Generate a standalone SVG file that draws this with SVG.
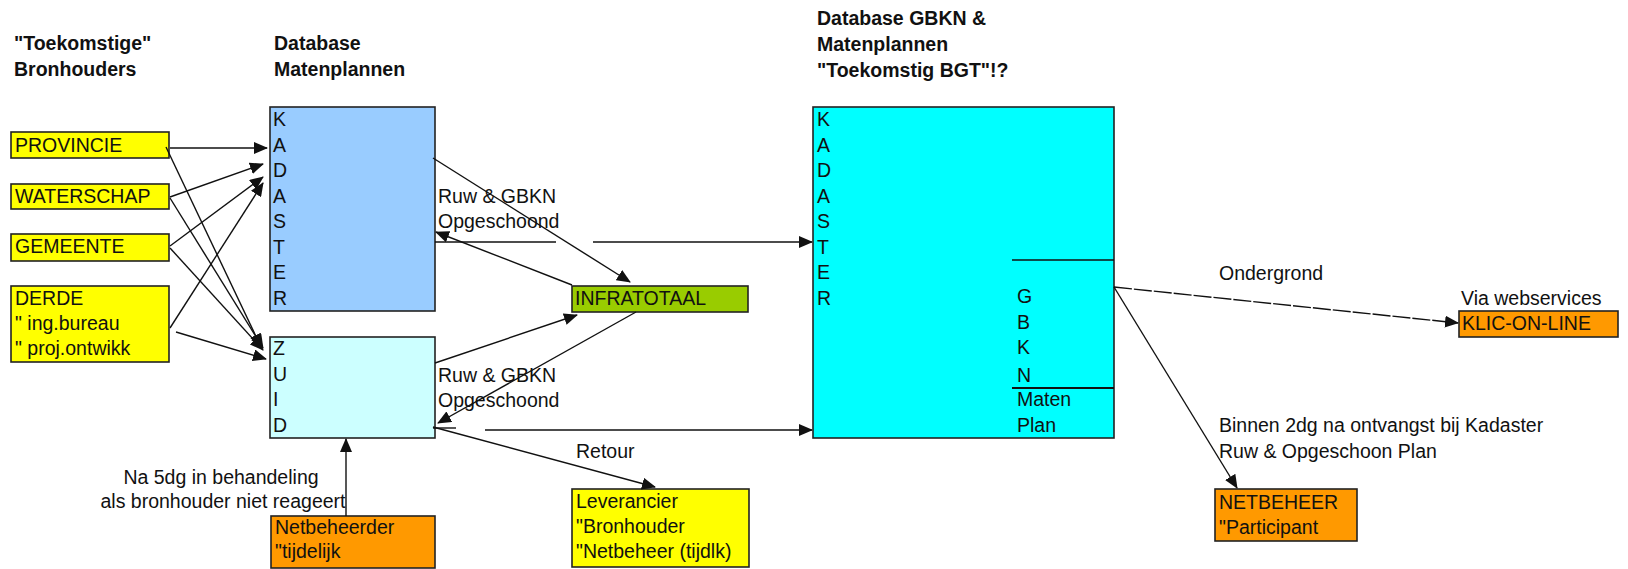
<svg xmlns="http://www.w3.org/2000/svg" width="1628" height="569" viewBox="0 0 1628 569">
<style>
text{font-family:"Liberation Sans",Arial,sans-serif;font-size:19.5px;fill:#111}
.t{font-weight:bold}
.box{stroke:#222;stroke-width:1.6}
.y{fill:#FFFF00}.o{fill:#FF9900}.g{fill:#99CC00}.kb{fill:#99CCFF}.zl{fill:#CCFFFF}.c{fill:#00FFFF}
.ln{stroke:#111;stroke-width:1.4;fill:none}
.a{marker-end:url(#ah)}
</style>
<defs>
<marker id="ah" markerUnits="userSpaceOnUse" markerWidth="14" markerHeight="12" refX="13" refY="6" orient="auto">
<path d="M0,0 L14,6 L0,12 z" fill="#111"/>
</marker>
</defs>
<g id="titles">
<text class="t" x="14" y="50">"Toekomstige"</text>
<text class="t" x="14" y="76">Bronhouders</text>
<text class="t" x="274" y="50">Database</text>
<text class="t" x="274" y="76">Matenplannen</text>
<text class="t" x="817" y="25">Database GBKN &amp;</text>
<text class="t" x="817" y="51">Matenplannen</text>
<text class="t" x="817" y="77">"Toekomstig BGT"!?</text>
</g>
<g id="provincie"><rect class="box y" x="11" y="132" width="158" height="26"/><text x="15" y="152">PROVINCIE</text></g>
<g id="waterschap"><rect class="box y" x="11" y="184" width="158" height="25"/><text x="15" y="203">WATERSCHAP</text></g>
<g id="gemeente"><rect class="box y" x="11" y="234" width="158" height="27"/><text x="15" y="253">GEMEENTE</text></g>
<g id="derde"><rect class="box y" x="11" y="286" width="158" height="76"/><text x="15" y="305">DERDE</text><text x="15" y="330">" ing.bureau</text><text x="15" y="355">" proj.ontwikk</text></g>
<g id="kadaster"><rect class="box kb" x="270" y="107" width="165" height="204"/>
<text x="273" y="126">K</text><text x="273" y="151.5">A</text><text x="273" y="177">D</text><text x="273" y="202.5">A</text><text x="273" y="228">S</text><text x="273" y="253.5">T</text><text x="273" y="279">E</text><text x="273" y="304.5">R</text></g>
<g id="zuid"><rect class="box zl" x="270" y="337" width="165" height="101"/>
<text x="273" y="355">Z</text><text x="273" y="381">U</text><text x="273" y="406">I</text><text x="273" y="432">D</text></g>
<g id="infratotaal"><rect class="box g" x="572" y="286" width="176" height="26"/><text x="575" y="305">INFRATOTAAL</text></g>
<g id="netbeheerder"><rect class="box o" x="271" y="516" width="164" height="52"/><text x="275" y="534">Netbeheerder</text><text x="275" y="558">"tijdelijk</text></g>
<g id="leverancier"><rect class="box y" x="572" y="489" width="177" height="78"/><text x="576" y="508">Leverancier</text><text x="576" y="533">"Bronhouder</text><text x="576" y="558">"Netbeheer (tijdlk)</text></g>
<g id="bgt"><rect class="box c" x="813" y="107" width="301" height="331"/>
<text x="817" y="126">K</text><text x="817" y="151.5">A</text><text x="817" y="177">D</text><text x="817" y="202.5">A</text><text x="817" y="228">S</text><text x="817" y="253.5">T</text><text x="817" y="279">E</text><text x="817" y="304.5">R</text>
<line x1="1012" y1="260" x2="1114" y2="260" stroke="#111" stroke-width="1.4"/>
<line x1="1012" y1="388" x2="1114" y2="388" stroke="#111" stroke-width="2"/>
<text x="1017" y="303">G</text><text x="1017" y="329">B</text><text x="1017" y="354">K</text><text x="1017" y="382">N</text>
<text x="1017" y="406">Maten</text><text x="1017" y="432">Plan</text></g>
<g id="klic"><rect class="box o" x="1459" y="311" width="159" height="26"/><text x="1462" y="330">KLIC-ON-LINE</text></g>
<g id="netbeheer"><rect class="box o" x="1215" y="489" width="142" height="52"/><text x="1219" y="509">NETBEHEER</text><text x="1219" y="534">"Participant</text></g>
<g id="connectors">
<line class="ln a" x1="170" y1="148" x2="267" y2="148"/>
<line class="ln a" x1="166" y1="147" x2="261" y2="347"/>
<line class="ln a" x1="170" y1="197" x2="263" y2="164"/>
<line class="ln a" x1="170" y1="198" x2="263" y2="348"/>
<line class="ln a" x1="170" y1="246" x2="263" y2="177"/>
<line class="ln a" x1="170" y1="248" x2="263" y2="350"/>
<line class="ln a" x1="170" y1="328" x2="263" y2="183"/>
<line class="ln a" x1="176" y1="332" x2="266" y2="359"/>
<line class="ln a" x1="433" y1="158" x2="630" y2="282"/>
<line class="ln a" x1="572" y1="285" x2="436" y2="232"/>
<line class="ln" x1="435" y1="242" x2="556" y2="242"/>
<line class="ln a" x1="593" y1="242" x2="812" y2="242"/>
<line class="ln a" x1="435" y1="363" x2="577" y2="315"/>
<line class="ln a" x1="636" y1="312" x2="438" y2="423"/>
<line class="ln" x1="433" y1="428" x2="456" y2="428"/>
<line class="ln a" x1="485" y1="430" x2="812" y2="430"/>
<line class="ln a" x1="433" y1="427" x2="655" y2="487"/>
<line class="ln a" x1="346" y1="516" x2="346" y2="439"/>
<line class="ln a" x1="1114" y1="287" x2="1458" y2="323" stroke-dasharray="18 2"/>
<line class="ln a" x1="1114" y1="287" x2="1237" y2="488"/>
</g>
<g id="labels">
<text x="438" y="203">Ruw &amp; GBKN</text>
<text x="438" y="228">Opgeschoond</text>
<text x="438" y="382">Ruw &amp; GBKN</text>
<text x="438" y="407">Opgeschoond</text>
<text x="576" y="458">Retour</text>
<text x="221" y="484" text-anchor="middle">Na 5dg in behandeling</text>
<text x="223" y="508" text-anchor="middle">als bronhouder niet reageert</text>
<text x="1219" y="280">Ondergrond</text>
<text x="1461" y="305">Via webservices</text>
<text x="1219" y="432">Binnen 2dg na ontvangst bij Kadaster</text>
<text x="1219" y="458">Ruw &amp; Opgeschoon Plan</text>
</g>
</svg>
